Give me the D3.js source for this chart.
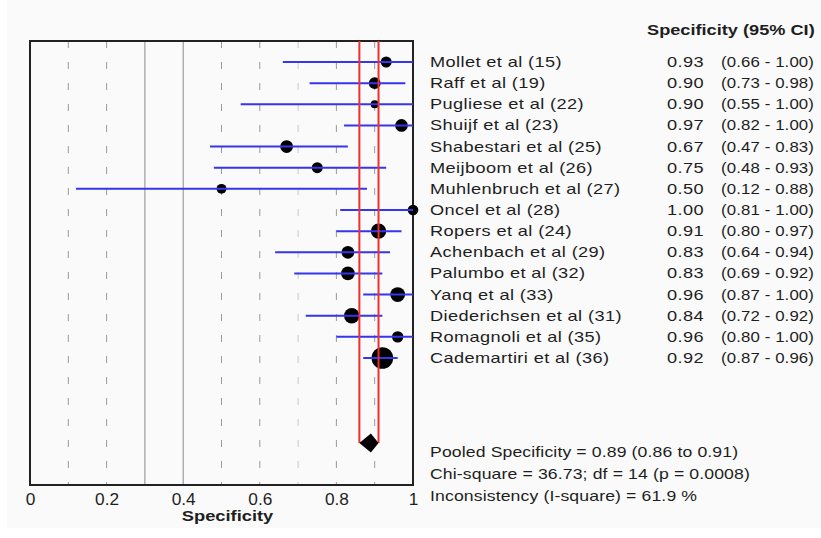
<!DOCTYPE html>
<html>
<head>
<meta charset="utf-8">
<script src="https://cdn.jsdelivr.net/npm/d3@7/dist/d3.min.js"></script>
<style>
  html, body { margin: 0; padding: 0; background: #ffffff; }
  svg { display: block; }
  text { font-family: "Liberation Sans", Arial, sans-serif; fill: #1e1e1e; }
</style>
</head>
<body>
<svg id="chart" width="821" height="538"></svg>
<script>
// Study-level specificity estimates with 95% confidence intervals
const studies = [
  "Mollet et al (15)", "Raff et al (19)", "Pugliese et al (22)", "Shuijf et al (23)",
  "Shabestari et al (25)", "Meijboom et al (26)", "Muhlenbruch et al (27)", "Oncel et al (28)",
  "Ropers et al (24)", "Achenbach et al (29)", "Palumbo et al (32)", "Yanq et al (33)",
  "Diederichsen et al (31)", "Romagnoli et al (35)", "Cademartiri et al (36)"
];
const specificity = [0.93, 0.90, 0.90, 0.97, 0.67, 0.75, 0.50, 1.00, 0.91, 0.83, 0.83, 0.96, 0.84, 0.96, 0.92];
const ciLow       = [0.66, 0.73, 0.55, 0.82, 0.47, 0.48, 0.12, 0.81, 0.80, 0.64, 0.69, 0.87, 0.72, 0.80, 0.87];
const ciHigh      = [1.00, 0.98, 1.00, 1.00, 0.83, 0.93, 0.88, 1.00, 0.97, 0.94, 0.92, 1.00, 0.92, 1.00, 0.96];
// Relative study weights (marker area)
const weights     = [30, 34, 16, 40, 40, 30, 24, 28, 58, 40, 46, 54, 58, 32, 115];

// Pooled estimate and heterogeneity statistics
const pooled = { est: 0.89, lo: 0.86, hi: 0.91 };
const chiSquare = 36.73, degFree = 14, pValue = 0.0008, iSquare = 61.9;

// Axis ticks and reference lines
const xTicks = [0, 0.2, 0.4, 0.6, 0.8, 1];
const gridDashed = [0.1, 0.2, 0.5, 0.6, 0.8, 0.9];
const gridFaint = [0.7];
const gridSolid = [0.3, 0.4];

const svg = d3.select("#chart");
const W = 821;
const plot = { left: 30, right: 413, top: 41, bottom: 485 };
const TXT_SX = 1.3;   // horizontal stretch of the table text

svg.append("rect").attr("x", 7).attr("y", 0).attr("width", W - 7).attr("height", 528)
  .attr("fill", "#fafafa");

const x = d3.scaleLinear().domain([0, 1]).range([plot.left, plot.right]);
const y = d3.scalePoint().domain(studies).range([62, 358]);
const r = d3.scaleSqrt().domain([0, d3.max(weights)]).range([0, 10.8]);
const pooledY = 443;

const rows = studies.map((s, i) => ({
  name: s, est: specificity[i], lo: ciLow[i], hi: ciHigh[i], w: weights[i]
}));

// grid lines
const grid = svg.append("g");
grid.selectAll(".gd").data(gridDashed).join("line")
  .attr("x1", d => x(d)).attr("x2", d => x(d))
  .attr("y1", plot.top).attr("y2", plot.bottom)
  .attr("stroke", "#9a9a9a").attr("stroke-width", 1).attr("stroke-dasharray", "7,14");
grid.selectAll(".gf").data(gridFaint).join("line")
  .attr("x1", d => x(d)).attr("x2", d => x(d))
  .attr("y1", plot.top).attr("y2", plot.bottom)
  .attr("stroke", "#c8c8c8").attr("stroke-width", 1).attr("stroke-dasharray", "7,14");
grid.selectAll(".gs").data(gridSolid).join("line")
  .attr("x1", d => x(d)).attr("x2", d => x(d))
  .attr("y1", plot.top).attr("y2", plot.bottom)
  .attr("stroke", "#8a8a8a").attr("stroke-width", 1);

// frame
svg.append("rect")
  .attr("x", plot.left).attr("y", plot.top)
  .attr("width", plot.right - plot.left).attr("height", plot.bottom - plot.top)
  .attr("fill", "none").attr("stroke", "#222").attr("stroke-width", 2);

// study markers
svg.append("g").selectAll("circle").data(rows).join("circle")
  .attr("cx", d => x(d.est)).attr("cy", d => y(d.name))
  .attr("r", d => r(d.w)).attr("fill", "#000");

// confidence intervals
svg.append("g").selectAll("line").data(rows).join("line")
  .attr("x1", d => x(d.lo)).attr("x2", d => x(d.hi))
  .attr("y1", d => y(d.name)).attr("y2", d => y(d.name))
  .attr("stroke", "#3535ee").attr("stroke-width", 2);

// pooled confidence limits
svg.append("g").selectAll("line").data([pooled.lo, pooled.hi]).join("line")
  .attr("x1", d => x(d)).attr("x2", d => x(d))
  .attr("y1", plot.top).attr("y2", pooledY)
  .attr("stroke", "#ee3030").attr("stroke-width", 2);

// pooled diamond
svg.append("path")
  .attr("d", `M${x(pooled.lo)},${pooledY} L${x(pooled.est)},${pooledY - 9.5} L${x(pooled.hi)},${pooledY} L${x(pooled.est)},${pooledY + 9.5} Z`)
  .attr("fill", "#000");

// x axis labels
const axis = d3.axisBottom(x).tickValues(xTicks).tickSize(0).tickPadding(0)
  .tickFormat(d => d === 0 || d === 1 ? d3.format("d")(d) : d3.format(".1f")(d));
const ax = svg.append("g").attr("transform", `translate(0,${plot.bottom + 6})`).call(axis);
ax.select(".domain").remove();
ax.selectAll("text").attr("dy", "0.9em").style("font-size", "16px")
  .style("font-family", "'Liberation Sans', Arial, sans-serif").attr("fill", "#333")
  .attr("transform", "scale(1.08,1)");

function stretched(g, tx, ty, str, opts = {}) {
  return g.append("text")
    .attr("transform", `translate(${tx},${ty}) scale(${opts.sx || TXT_SX},1)`)
    .style("font-size", (opts.size || 14) + "px")
    .style("font-weight", opts.bold ? "bold" : "normal")
    .style("letter-spacing", (opts.ls != null ? opts.ls : 0.3) + "px")
    .attr("text-anchor", opts.anchor || "start")
    .text(str);
}

stretched(svg, (plot.left + plot.right) / 2 + 6, 521, "Specificity", { bold: true, size: 15, sx: 1.22, anchor: "middle", ls: 0 });

// table
const tbl = svg.append("g");
stretched(tbl, 647, 35, "Specificity (95% CI)", { bold: true, size: 14, sx: 1.3, ls: 0 });
const f2 = d3.format(".2f");
rows.forEach(d => {
  const yy = y(d.name) + 5;
  stretched(tbl, 430, yy, d.name);
  stretched(tbl, 667, yy, f2(d.est));
  stretched(tbl, 721, yy, `(${f2(d.lo)} - ${f2(d.hi)})`, { sx: 1.2, ls: 0.1 });
});

stretched(tbl, 430, 457, `Pooled Specificity = ${f2(pooled.est)} (${f2(pooled.lo)} to ${f2(pooled.hi)})`, { sx: 1.26, ls: 0.1 });
stretched(tbl, 430, 479, `Chi-square = ${chiSquare}; df =  ${degFree} (p = ${pValue})`, { sx: 1.26, ls: 0.1 });
stretched(tbl, 430, 501, `Inconsistency (I-square) = ${iSquare} %`, { sx: 1.26, ls: 0.1 });
</script>
</body>
</html>
